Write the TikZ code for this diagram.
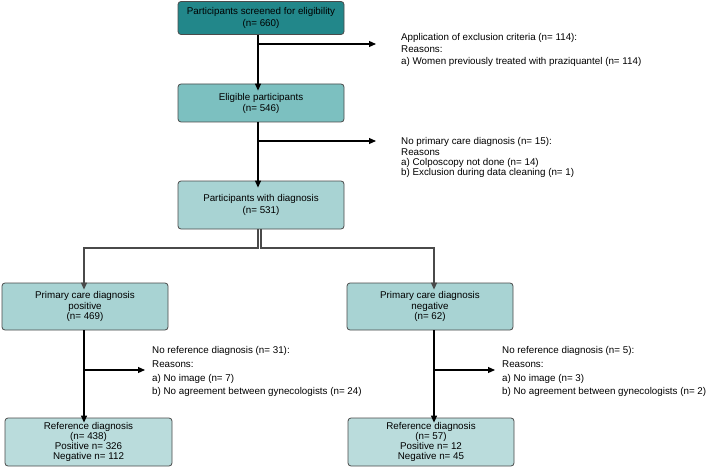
\documentclass[tikz,border=0pt]{standalone}
\usepackage{fontspec}
\setmainfont{Liberation Sans}
\usetikzlibrary{arrows.meta,calc}
\definecolor{tealA}{HTML}{22878A}
\definecolor{tealB}{HTML}{7CC0C0}
\definecolor{tealC}{HTML}{A8D3D3}
\definecolor{tealD}{HTML}{BADCDC}
\definecolor{edgegrey}{HTML}{4A4A4A}
\newcommand\fsz[1]{\fontsize{9.8}{#1}\selectfont}
\begin{document}
\begin{tikzpicture}[x=1pt,y=-1pt,
  box/.style={draw=edgegrey, rounded corners=3pt, line width=0.8pt, minimum width=166pt, align=center, inner sep=0pt},
  note/.style={align=left, inner sep=0pt, anchor=north west},
  arr/.style={-{Triangle[length=7pt,width=6pt]}, line width=1.1pt},
  gline/.style={draw=edgegrey, line width=1.3pt}]
\useasboundingbox (0,0) rectangle (709,468);

% boxes
\node[box, fill=tealA, minimum height=33pt, font=\fsz{12}] (b1) at (261,18) {Participants screened for eligibility\\(n= 660)};
\node[box, fill=tealB, minimum height=38pt, font=\fsz{11}] (b2) at (261,103) {Eligible participants\\(n= 546)};
\node[box, fill=tealC, minimum height=48pt, font=\fsz{12}] (b3) at (261,205) {Participants with diagnosis\\(n= 531)};
\node[box, fill=tealC, minimum height=47pt, font=\fsz{10.7}] (pos) at (85,306.5) {Primary care diagnosis\\positive\\(n= 469)};
\node[box, fill=tealC, minimum height=47pt, font=\fsz{10.7}] (neg) at (430,306.5) {Primary care diagnosis\\negative\\(n= 62)};
\node[box, fill=tealD, minimum height=48pt, minimum width=167pt, font=\fsz{10}] (refL) at (88.5,442) {Reference diagnosis\\(n= 438)\\Positive n= 326\\Negative n= 112};
\node[box, fill=tealD, minimum height=48pt, font=\fsz{10}] (refR) at (431,442) {Reference diagnosis\\(n= 57)\\Positive n= 12\\Negative n= 45};

% notes
\node[note, font=\fsz{12}] (e1) at (401,33.5) {Application of exclusion criteria (n= 114):\\Reasons:\\a) Women previously treated with praziquantel (n= 114)};
\node[note, font=\fsz{10.2}] (e2) at (401,137.5) {No primary care diagnosis (n= 15):\\Reasons\\a) Colposcopy not done (n= 14)\\b) Exclusion during data cleaning (n= 1)};
\node[note, font=\fsz{13.6}] (e3) at (152,346.5) {No reference diagnosis (n= 31):\\Reasons:\\a) No image (n= 7)\\b) No agreement between gynecologists (n= 24)};
\node[note, font=\fsz{13.6}] (e4) at (502,346.5) {No reference diagnosis (n= 5):\\Reasons:\\a) No image (n= 3)\\b) No agreement between gynecologists (n= 2)};

% connectors
\coordinate (j1) at (258,44);
\coordinate (t1) at (376,44);
\draw[arr] (b1.south -| j1) -- ([yshift=-7pt]b2.north -| j1);
\draw[arr] (j1) -- (t1);

\coordinate (j2) at (258,141);
\coordinate (t2) at (376,141);
\draw[arr] (b2.south -| j2) -- ([yshift=-7pt]b3.north -| j2);
\draw[arr] (j2) -- (t2);

\coordinate (k1) at (258,248);
\coordinate (k2) at (261,248);
\coordinate (p1) at (84,248);
\coordinate (n1) at (434,248);
\draw[gline, arr] (b3.south -| k1) -- (k1) -- (p1) -- ([yshift=-7pt]pos.north -| p1);
\draw[gline, arr] (b3.south -| k2) -- (k2) -- (n1) -- ([yshift=-7pt]neg.north -| n1);

\coordinate (j3) at (84,370);
\coordinate (t3) at (145,370);
\draw[arr] (pos.south -| j3) -- ([yshift=-5pt]refL.north -| j3);
\draw[arr] (j3) -- (t3);

\coordinate (j4) at (434,370);
\coordinate (t4) at (495,370);
\draw[arr] (neg.south -| j4) -- ([yshift=-5pt]refR.north -| j4);
\draw[arr] (j4) -- (t4);
\end{tikzpicture}
\end{document}
